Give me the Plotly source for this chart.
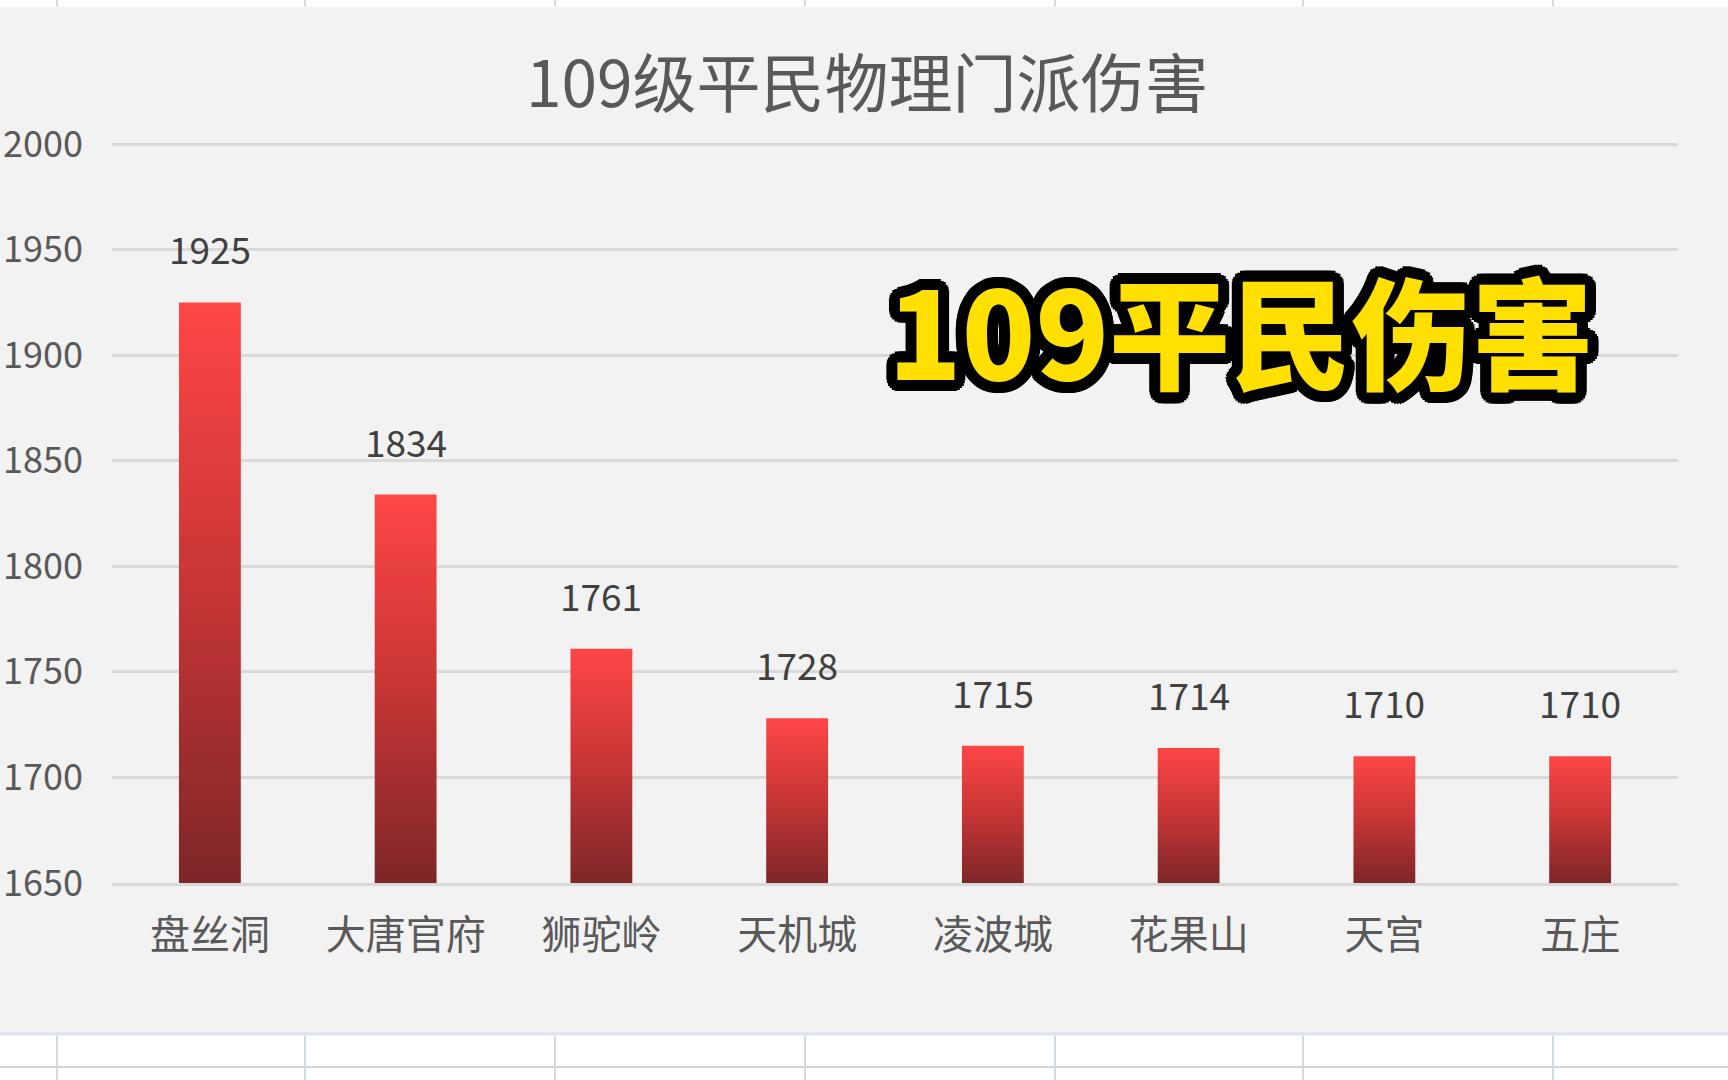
import math
import plotly.graph_objects as go

# 数据
categories = ["盘丝洞", "大唐官府", "狮驼岭", "天机城", "凌波城", "花果山", "天宫", "五庄"]
damage = [1925, 1834, 1761, 1728, 1715, 1714, 1710, 1710]
y_ticks = [1650, 1700, 1750, 1800, 1850, 1900, 1950, 2000]

title_text = "109级平民物理门派伤害"
overlay_text = "109平民伤害"

W, H = 1728, 1080
# top of range sits 1 unit above 2000 so that the 2000 gridline is drawn
Y_MIN, Y_MAX = 1650, 2001
PLOT_L, PLOT_R, PLOT_T, PLOT_B = 112, 1678, 142, 883
HALF_W = 0.158  # half bar width in category units

FONT = "Noto Sans CJK SC"
GREY = "#595959"


def px(x):
    # page pixel -> paper x (paper spans the plot area)
    return (x - PLOT_L) / (PLOT_R - PLOT_L)


def py(y):
    return (PLOT_B - y) / (PLOT_B - PLOT_T)


fig = go.Figure()

# bars with a vertical gradient (scatter fill polygons)
for i, v in enumerate(damage):
    fig.add_trace(go.Scatter(
        x=[i - HALF_W, i + HALF_W, i + HALF_W, i - HALF_W, i - HALF_W],
        y=[Y_MIN, Y_MIN, v, v, Y_MIN],
        mode="none",
        fill="toself",
        fillgradient=dict(
            type="vertical",
            colorscale=[[0, "#7d2628"], [0.5, "#c63535"], [1, "#ff4646"]],
            start=Y_MIN,
            stop=v,
        ),
        hoverinfo="skip",
        showlegend=False,
    ))

# data labels
for i, v in enumerate(damage):
    fig.add_annotation(
        x=i, y=v, text=str(v), showarrow=False,
        yanchor="bottom", yshift=25,
        font=dict(family=FONT, size=37, color="#404040"),
    )

# chart title
fig.add_annotation(
    x=px(867), y=py(79), xref="paper", yref="paper",
    text=title_text, showarrow=False,
    xanchor="center", yanchor="middle",
    font=dict(family=FONT, size=64, color=GREY),
)

# yellow outlined overlay caption
shadow_parts = []
for r in (4, 8, 11):
    for k in range(24):
        a = 2 * math.pi * k / 24
        shadow_parts.append(f"{r * math.cos(a):.1f}px {r * math.sin(a):.1f}px 0 #000")
fig.add_annotation(
    x=px(1240), y=py(327), xref="paper", yref="paper",
    text=overlay_text, showarrow=False,
    xanchor="center", yanchor="middle",
    font=dict(family=FONT, size=121, color="#ffe000", weight=800,
              shadow=", ".join(shadow_parts)),
)

# spreadsheet background: chart area + cell grid
shapes = [
    dict(type="rect", xref="paper", yref="paper", x0=px(0), x1=px(W), y0=py(1034), y1=py(7),
         fillcolor="#f2f2f2", line=dict(width=0), layer="below"),
    dict(type="line", xref="paper", yref="paper", x0=px(0), x1=px(W), y0=py(1034), y1=py(1034),
         line=dict(color="#dce2ec", width=3), layer="below"),
    dict(type="line", xref="paper", yref="paper", x0=px(0), x1=px(W), y0=py(1067), y1=py(1067),
         line=dict(color="#d4d4d4", width=2), layer="below"),
]
for cx in [57, 305, 555, 805, 1055, 1303, 1553]:
    for y0, y1 in [(0, 6), (1036, H)]:
        shapes.append(dict(type="line", xref="paper", yref="paper",
                           x0=px(cx), x1=px(cx), y0=py(y1), y1=py(y0),
                           line=dict(color="#d0d7e5", width=2), layer="below"))

fig.update_layout(
    width=W, height=H,
    margin=dict(l=PLOT_L, r=W - PLOT_R, t=PLOT_T, b=H - PLOT_B),
    paper_bgcolor="white",
    plot_bgcolor="#f2f2f2",
    shapes=shapes,
    showlegend=False,
    xaxis=dict(
        range=[-0.5, len(categories) - 0.5],
        tickvals=list(range(len(categories))),
        ticktext=categories,
        showgrid=False, zeroline=False,
        showline=True, linecolor="#d9d9d9", linewidth=2.5,
        ticks="", ticklabelstandoff=15,
        tickfont=dict(family=FONT, size=40, color=GREY),
        fixedrange=True, automargin=False,
    ),
    yaxis=dict(
        range=[Y_MIN, Y_MAX],
        tickvals=y_ticks,
        showgrid=True, gridcolor="#d9d9d9", gridwidth=2.5,
        zeroline=False, showline=False, ticks="",
        ticklabelstandoff=28,
        tickfont=dict(family=FONT, size=36, color=GREY),
        fixedrange=True, automargin=False,
    ),
)

fig.write_html("out.html", config={"displayModeBar": False},
               post_script="document.body.style.margin='0px';")
